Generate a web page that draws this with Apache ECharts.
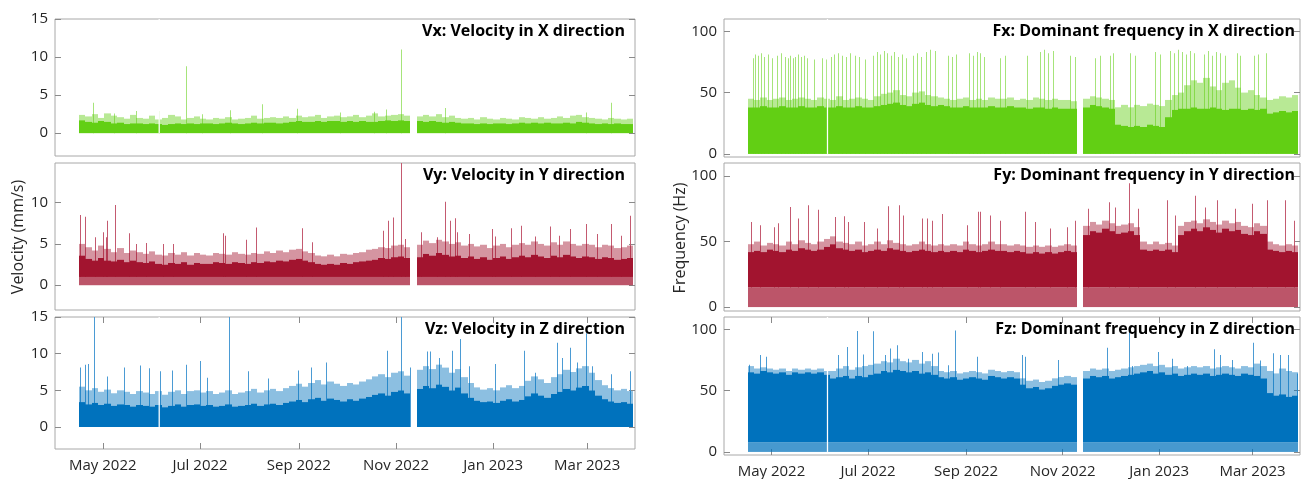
<!DOCTYPE html>
<html><head><meta charset="utf-8">
<script src="https://cdn.jsdelivr.net/npm/echarts@6/dist/echarts.min.js"></script>
<style>html,body{margin:0;padding:0;background:#fff}#c{width:1306px;height:479px}</style>
</head><body><div id="c"></div>
<script>
// ---- time axis (days since 2022-04-01) ----
const AXIS_START = '2022-04-01';
const AXIS_END_DAY = 364;
const MONTH_TICK_DAYS = [30, 91, 153, 214, 275, 334];
const MONTH_TICK_LABELS = ['May 2022', 'Jul 2022', 'Sep 2022', 'Nov 2022', 'Jan 2023', 'Mar 2023'];
const FIRST_BIN_DAY = 15;   // 2022-04-16
const BIN_DAYS = 4;
const SHORT_GAP_DAYS = [65.0, 65.8];          // brief outage (X and Z channels)
const SHORT_GAP_PANELS = [0, 2, 3, 5];

const PANEL_TITLES = ['Vx: Velocity in X direction', 'Vy: Velocity in Y direction', 'Vz: Velocity in Z direction',
  'Fx: Dominant frequency in X direction', 'Fy: Dominant frequency in Y direction', 'Fz: Dominant frequency in Z direction'];
const LEFT_TICKS = [0, 5, 10, 15];
const MID_LEFT_TICKS = [0, 5, 10];
const RIGHT_TICKS = [0, 50, 100];
const FLOORS = [0, 1.0, 0, 0, 15, 8];

// ---- Vx (mm/s), 4-day bins: dense core top and light fringe top ----
const VX_CORE = [1.7,1.5,1.4,1.6,1.5,1.3,1.4,1.2,1.3,1.3, 1.2,1.3,1.2,1.1,1.2,1.3,1.2,1.3,1.2,1.3,
  1.3,1.2,1.3,1.4,1.3,1.2,1.3,1.4,1.3,1.4, 1.4,1.3,1.4,1.5,1.6,1.5,1.5,1.6,1.5,1.6,
  1.6,1.5,1.6,1.5,1.6,1.5,1.5,1.6,1.7,1.6, 1.7,1.6,null,1.6,1.5,1.6,1.5,1.4,1.5,1.4,
  1.3,1.3,1.2,1.3,1.2,1.3,1.3,1.2,1.3,1.4, 1.3,1.4,1.3,1.4,1.3,1.3,1.4,1.3,1.5,1.4,
  1.3,1.2,1.3,1.2,1.3,1.2,1.2];
const VX_PEAK = [2.4,2.2,2.5,2.0,2.6,2.3,2.1,1.9,2.4,2.0, 1.9,2.3,1.8,2.0,2.4,2.2,1.8,2.0,2.2,1.9,
  1.8,2.0,1.9,2.1,1.8,1.9,2.0,2.3,1.9,2.0, 2.1,2.0,2.2,2.0,2.3,2.1,2.2,2.4,2.0,2.2,
  2.3,2.1,2.2,2.4,2.1,2.3,2.6,2.2,2.3,2.4, 2.5,2.3,null,2.2,2.4,2.2,2.5,2.1,2.3,2.0,
  1.9,2.0,1.8,2.1,1.9,1.8,2.0,1.9,1.8,2.1, 2.0,1.9,2.1,1.9,2.0,2.2,2.0,2.3,2.4,2.1,
  2.0,1.9,1.8,2.0,1.9,1.8,1.9];
const VX_SPIKES = [[24,4.0],[37,2.6],[51,2.9],[65,2.9],[82,8.8],[92,2.5],[110,3.0],[130,3.8],[152,3.2],
  [179,2.7],[200,2.8],[208,3.1],[217,11.0],[245,3.3],[333,2.7],[349,4.0]];

// ---- Vy ----
const VY_CORE = [3.6,3.2,3.0,3.3,3.0,2.9,3.1,2.8,3.0,2.8, 2.7,2.9,2.6,2.5,2.7,2.6,2.8,2.5,2.7,2.6,
  2.6,2.8,2.7,2.6,2.8,2.7,2.6,2.8,2.7,2.9, 2.8,3.0,2.9,3.1,3.2,3.0,2.8,2.6,2.5,2.6,
  2.5,2.7,2.6,2.8,2.9,3.0,3.1,3.3,3.2,3.4, 3.5,3.3,null,3.4,3.8,3.6,3.9,3.7,3.5,3.6,
  3.3,3.5,3.2,3.4,3.1,3.3,3.5,3.2,3.4,3.6, 3.4,3.7,3.5,3.3,3.6,3.4,3.7,3.5,3.3,3.5,
  3.4,3.2,3.4,3.3,3.1,3.2,3.3];
const VY_PEAK = [5.0,4.6,4.2,4.8,4.4,4.0,4.5,3.9,4.2,4.0, 3.8,4.1,3.7,3.6,3.9,3.7,4.0,3.6,3.9,3.7,
  3.6,3.9,3.8,3.7,4.0,3.8,3.7,3.9,3.8,4.1, 3.9,4.2,4.0,4.3,4.4,4.1,3.9,3.6,3.5,3.7,
  3.5,3.8,3.7,3.9,4.0,4.3,4.4,4.6,4.5,4.8, 4.9,4.6,null,4.9,5.4,5.1,5.5,5.3,5.0,5.2,
  4.8,5.0,4.7,4.9,4.5,4.8,5.0,4.6,4.9,5.1, 4.9,5.3,5.0,4.8,5.2,4.9,5.3,5.0,4.8,5.0,
  4.9,4.6,4.9,4.8,4.5,4.6,4.8];
const VY_SPIKES = [[15.8,8.5],[18.9,8.3],[25,5.8],[30.3,6.4],[32.2,5.8],[32.8,7.8],[37.8,9.7],[46.7,6.3],
  [51,5.0],[57.4,5.1],[67.5,5.0],[73.8,5.0],[105.3,6.3],[107,6.0],[119.8,5.5],[126,7.0],[155,6.9],[161,5.2],
  [206,6.6],[208.7,7.8],[212,8.2],[217,15.5],[219.4,5.6],[230,6.4],[240,5.8],[245,10.1],[247.6,7.8],[251,8.1],
  [252,6.4],[260,6.2],[274,6.8],[276,5.9],[286,6.9],[292.6,7.2],[301.5,5.9],[310.6,7.1],[316,6.0],[323.5,6.8],
  [333,7.4],[340,6.2],[348.7,7.4],[355,6.0],[360.6,8.4]];

// ---- Vz ----
const VZ_CORE = [3.4,3.1,3.3,3.0,3.2,2.9,3.1,3.0,2.8,3.0, 2.9,2.8,3.0,2.7,2.9,3.1,2.8,3.0,3.1,2.9,
  3.0,2.8,2.9,3.1,2.8,2.9,3.0,3.2,2.9,3.1, 3.2,3.0,3.3,3.5,3.7,3.4,3.8,4.0,3.6,3.9,
  3.7,3.5,3.8,3.6,3.9,4.1,4.4,4.6,4.3,4.8, 5.0,4.6,null,5.2,5.6,5.3,5.8,5.5,5.0,5.4,
  4.6,4.0,3.6,3.4,3.5,3.3,3.6,3.8,3.5,3.7, 4.2,4.6,4.3,4.0,4.5,4.8,5.2,5.0,5.4,5.6,
  5.0,4.3,3.8,3.5,3.3,3.4,3.2];
const VZ_PEAK = [5.5,5.0,5.3,4.8,5.1,4.6,5.0,4.8,4.5,4.9, 4.7,4.5,4.9,4.4,4.8,5.0,4.5,4.9,5.0,4.7,
  4.9,4.5,4.7,5.0,4.5,4.7,4.9,5.2,4.7,5.0, 5.2,4.9,5.3,5.6,5.9,5.5,6.0,6.4,5.8,6.2,
  5.9,5.6,6.0,5.8,6.2,6.5,6.9,7.2,6.8,7.4, 7.6,7.0,null,7.8,8.3,7.9,8.5,8.1,7.4,7.9,
  6.8,6.0,5.4,5.1,5.3,5.0,5.4,5.7,5.3,5.6, 6.3,6.9,6.5,6.0,6.8,7.2,7.8,7.5,8.0,8.3,
  7.4,6.4,5.7,5.3,5.0,5.2,4.9];
const VZ_SPIKES = [[15.8,8.1],[18.9,8.5],[21,8.6],[24.2,16],[32.6,6.9],[43,8.1],[53.6,8.4],[59.3,8.0],[65.9,7.6],
  [73.6,7.7],[82,8.5],[91,9.0],[95.6,6.7],[109.3,16],[121.3,7.6],[133.5,6.6],[152.4,7.7],[160.8,8.1],[170,8.8],
  [208.5,10.4],[216.9,16],[222.5,8.1],[233.3,10.3],[235.4,10.3],[240.7,9.4],[249,10.4],[254.3,12.0],[259.6,8.3],
  [276.4,8.6],[294.6,10.4],[301.4,7.4],[315.3,11.5],[318.4,9.4],[323,10.8],[327.9,8.8],[333.5,12.8],[337.3,8.3],
  [348.9,7.2],[360.8,7.6]];

// ---- Fx (Hz) ----
const FX_CORE = [38,38,39,38,38,39,38,38,39,38, 38,39,38,38,39,38,38,39,38,38,
  39,40,41,42,40,39,41,42,40,39, 40,39,38,38,39,38,38,38,39,38,
  38,39,38,38,37,38,38,37,38,37, 37,37,null,38,40,39,38,37,24,23,
  22,23,22,24,23,22,30,36,37,37, 38,37,37,38,37,36,37,37,36,37,
  36,37,33,34,35,34,35];
const FX_PEAK = [45,44,46,44,45,46,44,45,46,45, 44,46,45,44,47,44,45,46,45,44,
  47,49,50,52,48,47,50,51,48,47, 46,45,44,45,46,44,45,44,46,45,
  45,46,44,45,44,46,45,44,45,44, 44,43,null,45,47,46,45,44,38,40,
  38,40,39,41,40,39,44,48,50,56, 60,58,62,55,52,58,60,54,50,52,
  48,46,44,45,47,46,48];
const FX_SPIKES = [[18.3,78],[19.6,81],[21.5,80],[23.4,82],[25.3,79],[27.8,81],[30.3,78],[33.5,80],[36,82],
  [38.6,79],[40.5,78],[41.7,80],[43.6,78],[44.9,79],[46.8,81],[48.7,79],[50.6,80],[52.5,78],[56.9,77],[62,78],
  [64.5,77],[67.6,79],[69.5,81],[72,82],[74.6,80],[77,79],[79.6,82],[82.8,80],[85.3,79],[89.1,77],[94.2,80],
  [96.7,83],[98.6,81],[101.1,84],[103,82],[105.6,80],[107.5,83],[110,79],[112.5,81],[115,78],[119.5,80],[122,82],
  [124.5,79],[127.7,83],[130.2,85],[133.4,84],[141.6,80],[144.1,79],[146.6,81],[154.9,82],[157.4,80],[159.9,83],
  [161.8,82],[164.3,79],[174.5,78],[177.6,80],[191.5,80],[199.7,83],[202.3,85],[204.8,82],[208,84],[218.7,80],
  [221.9,79],[234.5,78],[237.7,80],[244,80],[245.9,82],[256.6,82],[259.8,80],[272.4,83],[275.6,81],[281.9,84],
  [284.5,82],[287,85],[289.5,83],[292,81],[294.6,84],[297.1,82],[303.4,81],[305.9,84],[308.5,80],[311,83],
  [313.5,82],[316.7,80],[324.3,82],[326.2,80],[335,80],[337.5,81],[342.6,82]];

// ---- Fy ----
const FY_CORE = [42,43,42,44,43,42,44,43,45,44, 43,44,46,48,45,44,43,44,42,43,
  44,43,45,44,43,42,43,44,43,42, 43,42,43,42,44,43,42,43,44,43,
  43,42,43,42,41,42,41,42,41,42, 43,42,null,55,58,57,60,58,56,57,
  58,55,44,43,44,43,44,42,55,58, 60,58,61,59,57,60,58,59,56,55,
  58,56,44,43,42,43,42];
const FY_PEAK = [48,50,47,49,48,47,50,48,51,49, 48,50,52,54,50,49,48,50,47,48,
  50,48,51,49,48,47,48,50,48,47, 48,47,48,47,50,48,47,48,50,48,
  48,47,48,47,46,47,46,47,46,47, 48,47,null,62,65,63,66,64,62,63,
  64,61,50,48,50,48,49,47,62,65, 66,64,67,65,63,66,64,65,62,61,
  64,62,50,48,47,48,47];
const FY_SPIKES = [[16.9,65],[22.8,62.5],[31.4,61],[34.3,64],[41.7,76.4],[47,67.6],[52.9,77.7],[59.6,74.4],
  [70.2,68.8],[75.9,69.3],[78.6,65],[88.7,65],[96.5,60],[103.9,77],[110.6,77.7],[113.4,70],[125,67.6],[128,67.6],
  [131.3,66],[138,71],[153.4,62.5],[160.4,72.7],[161.8,72.7],[168.1,70],[174.5,66],[190.3,72.7],[196.6,65],
  [206,60],[216.6,61],[221.9,66],[230.3,75],[243,80],[247.2,76],[256,94.6],[261.9,75],[279.8,81.6],[285,70],
  [297.7,85],[304,76],[311.4,81.6],[323,75],[333.6,78.9],[343,81.6],[354.6,81.6],[359.9,66]];

// ---- Fz ----
const FZ_CORE = [65,64,66,65,64,65,63,65,64,65, 64,65,63,60,61,62,60,62,61,63,
  64,66,65,67,66,65,66,64,65,63, 61,60,61,59,60,61,60,59,62,61,
  60,61,60,55,52,53,51,52,54,55, 56,55,null,60,62,61,62,60,61,62,
  63,64,65,66,64,65,63,64,62,63, 64,63,64,62,63,64,63,62,64,63,
  62,60,48,46,47,45,46];
const FZ_PEAK = [70,68,69,68,67,68,66,68,67,68, 67,68,66,66,68,70,67,69,70,71,
  72,74,73,76,74,73,75,72,74,70, 66,65,66,64,65,66,65,64,67,66,
  65,66,65,60,58,59,57,58,60,61, 62,61,null,66,68,67,68,66,67,68,
  69,70,71,72,70,71,69,70,68,69, 70,69,70,68,69,70,69,68,70,69,
  72,70,66,64,68,66,65];
const FZ_SPIKES = [[15.5,71],[22.8,79],[26.5,77.6],[72.3,79],[78,85.6],[83.9,98.6],[88.1,79.4],[94,98.4],
  [101.8,79],[104.9,84.3],[109.2,87],[116.5,76],[125,81.5],[131.3,80],[135,81],[141.8,70.7],[146,98.9],
  [159.7,77.6],[188.2,79],[190.3,77.6],[211.3,75],[242.3,85],[256,99],[257.7,70],[274.5,81.5],[283,76],
  [292.5,70],[309.9,83.7],[313.5,79],[320.9,75],[334.2,89],[338.8,74.5],[347.2,80.5],[351.5,79],[356.7,79],[362,64]];

// ---------------------------------------------------------------
const GREEN = '#62cf14', RED = '#a2142f', BLUE = '#0072bd';
const GREEN_LIGHT = '#a6e47a', RED_LIGHT = '#c45a70', BLUE_LIGHT = '#4b9bd4';
const FONT = "'Open Sans', 'Noto Sans', sans-serif";
const TXT = '#262626', BORDER = '#a8a8a8', TICK = '#8a8a8a';

const panels = [
  {core: VX_CORE, peak: VX_PEAK, spikes: VX_SPIKES, color: GREEN, light: GREEN_LIGHT, grid: {left:55, top:19, width:580, height:137}, y:[-3,15], ticks: LEFT_TICKS, bottom:false},
  {core: VY_CORE, peak: VY_PEAK, spikes: VY_SPIKES, color: RED, light: RED_LIGHT, grid: {left:55, top:163, width:580, height:147}, y:[-3,14.8], ticks: MID_LEFT_TICKS, bottom:false},
  {core: VZ_CORE, peak: VZ_PEAK, spikes: VZ_SPIKES, color: BLUE, light: BLUE_LIGHT, grid: {left:55, top:317, width:580, height:132}, y:[-3,15], ticks: LEFT_TICKS, bottom:true},
  {core: FX_CORE, peak: FX_PEAK, spikes: FX_SPIKES, color: GREEN, light: GREEN_LIGHT, grid: {left:724, top:19, width:576, height:138}, y:[-2.5,110], ticks: RIGHT_TICKS, bottom:false},
  {core: FY_CORE, peak: FY_PEAK, spikes: FY_SPIKES, color: RED, light: RED_LIGHT, grid: {left:724, top:163, width:576, height:148}, y:[-3,110], ticks: RIGHT_TICKS, bottom:false},
  {core: FZ_CORE, peak: FZ_PEAK, spikes: FZ_SPIKES, color: BLUE, light: BLUE_LIGHT, grid: {left:724, top:317, width:576, height:138}, y:[-2.5,110], ticks: RIGHT_TICKS, bottom:true},
];

const grids = [], xAxes = [], yAxes = [], series = [], graphics = [];
panels.forEach((p, g) => {
  grids.push(Object.assign({show:true, borderColor:BORDER, borderWidth:1, backgroundColor:'#fff', containLabel:false}, p.grid));
  const xBase = {type:'value', gridIndex:g, min:0, max:AXIS_END_DAY, splitLine:{show:false}, axisLine:{show:false, onZero:false}};
  xAxes.push(Object.assign({}, xBase, {position:'bottom',
    axisTick:{show:p.bottom, inside:true, length:6, customValues:MONTH_TICK_DAYS, lineStyle:{color:TICK}},
    axisLabel:{show:p.bottom, customValues:MONTH_TICK_DAYS, margin:9, fontSize:15, fontFamily:FONT, color:TXT,
      formatter: v => MONTH_TICK_LABELS[MONTH_TICK_DAYS.indexOf(Math.round(v))] || ''}}));
  xAxes.push(Object.assign({}, xBase, {position:'top',
    axisTick:{show:p.bottom, inside:true, length:6, customValues:MONTH_TICK_DAYS, lineStyle:{color:TICK}},
    axisLabel:{show:false}}));
  const yBase = {type:'value', gridIndex:g, min:p.y[0], max:p.y[1], splitLine:{show:false}, axisLine:{show:false, onZero:false}};
  yAxes.push(Object.assign({}, yBase, {position:'left',
    axisTick:{show:true, inside:true, length:6, customValues:p.ticks, lineStyle:{color:TICK}},
    axisLabel:{show:true, customValues:p.ticks, margin:7, fontSize:15, fontFamily:FONT, color:TXT}}));
  yAxes.push(Object.assign({}, yBase, {position:'right',
    axisTick:{show:true, inside:true, length:6, customValues:p.ticks, lineStyle:{color:TICK}},
    axisLabel:{show:false}}));

  const floor = FLOORS[g];
  const color = p.color, light = p.light;
  // spikes first (under band), drawn as 1px-wide rectangles
  series.push({
    type:'custom', xAxisIndex:2*g, yAxisIndex:2*g, clip:true, silent:true, z:2,
    itemStyle:{color: light},
    data: p.spikes,
    renderItem(params, api) {
      const d = api.value(0), v = api.value(1);
      const a = api.coord([d, floor]), b = api.coord([d, v]);
      const x = Math.round(a[0]);
      return {type:'rect', shape:{x:x, y:b[1], width:1, height:a[1] - b[1]}, style:{fill:light}};
    }
  });
  const bins = p.core.map((c, i) => [FIRST_BIN_DAY + i * BIN_DAYS, c, p.peak[i]]).filter(d => d[1] != null);
  series.push({
    type:'custom', xAxisIndex:2*g, yAxisIndex:2*g, clip:true, silent:true, z:3,
    itemStyle:{color: color},
    data: bins,
    renderItem(params, api) {
      const d0 = api.value(0), c = api.value(1), pk = api.value(2);
      const x0 = Math.round(api.coord([d0, 0])[0]);
      const x1 = Math.round(api.coord([d0 + BIN_DAYS, 0])[0]);
      const yZero = api.coord([d0, 0])[1], yFloor = api.coord([d0, floor])[1];
      const yCore = api.coord([d0, c])[1], yPeak = api.coord([d0, pk])[1];
      const ch = [
        {type:'rect', shape:{x:x0, y:yPeak, width:x1 - x0, height:yCore - yPeak}, style:{fill:color, opacity:0.45}},
        {type:'rect', shape:{x:x0, y:yCore, width:x1 - x0, height:yFloor - yCore}, style:{fill:color}}
      ];
      if (floor > 0) ch.push({type:'rect', shape:{x:x0, y:yFloor, width:x1 - x0, height:yZero - yFloor}, style:{fill:color, opacity:0.72}});
      return {type:'group', children:ch};
    }
  });
  if (SHORT_GAP_PANELS.indexOf(g) >= 0) {
    series.push({
      type:'custom', xAxisIndex:2*g, yAxisIndex:2*g, clip:true, silent:true, z:4,
      data: [SHORT_GAP_DAYS],
      renderItem(params, api) {
        const a = api.coord([api.value(0), p.y[1]]), b = api.coord([api.value(1), 0]);
        return {type:'rect', shape:{x:a[0], y:a[1], width:Math.max(1, b[0] - a[0]), height:b[1] - a[1]}, style:{fill:'#fff'}};
      }
    });
  }
  const gr = p.grid;
  graphics.push({type:'text', right: (1306 - (gr.left + gr.width)) + (g < 3 ? 10 : 5), top: gr.top + 4, z:100,
    style:{text: PANEL_TITLES[g], font: "bold 16px " + FONT, fill:'#000'}});
});

graphics.push({type:'text', x:18, y:237, rotation:Math.PI/2, z:100,
  style:{text:'Velocity (mm/s)', font:'16px ' + FONT, fill:TXT, align:'center', verticalAlign:'middle'}});
graphics.push({type:'text', x:680, y:238, rotation:Math.PI/2, z:100,
  style:{text:'Frequency (Hz)', font:'16px ' + FONT, fill:TXT, align:'center', verticalAlign:'middle'}});

const chart = echarts.init(document.getElementById('c'), null, {renderer:'canvas'});
chart.setOption({animation:false, backgroundColor:'#fff', grid:grids, xAxis:xAxes, yAxis:yAxes, series, graphic:graphics});
</script></body></html>
